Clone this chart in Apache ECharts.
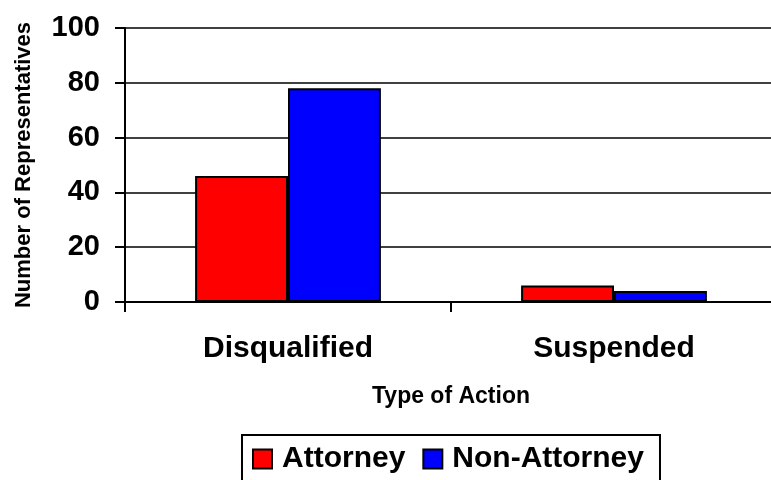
<!DOCTYPE html>
<html>
<head>
<meta charset="utf-8">
<script src="https://cdn.jsdelivr.net/npm/echarts@6/dist/echarts.min.js"></script>
<style>html,body{margin:0;padding:0;background:#fff}#c{width:771px;height:480px}</style>
</head>
<body>
<div id="c"></div>
<script>
const categories = ['Disqualified', 'Suspended'];
const attorney = [46, 6];
const nonAttorney = [78, 4];
const yTicks = { min: 0, max: 100, interval: 20 };

const FONT = '"Liberation Sans", Arial, sans-serif';
const chart = echarts.init(document.getElementById('c'), null, { renderer: 'canvas' });
chart.setOption({
  animation: false,
  backgroundColor: '#fff',
  textStyle: { fontFamily: FONT, fontWeight: 'bold', color: '#000' },
  grid: { left: 125, top: 28, width: 652, bottom: 178, containLabel: false, outerBoundsMode: 'none' },
  legend: {
    left: 242, top: 435,
    padding: [9, 16, 30, 10],
    borderColor: '#000', borderWidth: 2,
    itemWidth: 19, itemHeight: 19, itemGap: 17,
    icon: 'rect',
    textStyle: { fontFamily: FONT, fontWeight: 'bold', fontSize: 30, color: '#000', padding: [0, 0, 0, 5] },
    data: ['Attorney', 'Non-Attorney']
  },
  xAxis: {
    type: 'category',
    data: categories,
    name: 'Type of Action',
    nameLocation: 'middle',
    nameGap: 83,
    nameTextStyle: { fontFamily: FONT, fontWeight: 'bold', fontSize: 23, color: '#000' },
    axisLine: { lineStyle: { color: '#000', width: 2 } },
    axisTick: { show: true, length: 10, lineStyle: { color: '#000', width: 2 } },
    axisLabel: { fontFamily: FONT, fontWeight: 'bold', fontSize: 30, color: '#000', margin: 32 }
  },
  yAxis: {
    type: 'value',
    min: yTicks.min, max: yTicks.max, interval: yTicks.interval,
    name: 'Number of Representatives',
    nameLocation: 'middle',
    nameGap: 90,
    nameTextStyle: { fontFamily: FONT, fontWeight: 'bold', fontSize: 22, color: '#000' },
    axisLine: { show: true, lineStyle: { color: '#000', width: 2 } },
    axisTick: { show: true, length: 10, lineStyle: { color: '#000', width: 2 } },
    axisLabel: { fontFamily: FONT, fontWeight: 'bold', fontSize: 29, color: '#000', margin: 25 },
    splitLine: { show: true, lineStyle: { color: '#000', width: 1.5 } }
  },
  series: [
    {
      name: 'Attorney', type: 'bar', data: attorney,
      barGap: '0%', barCategoryGap: '43%',
      itemStyle: { color: '#ff0000', borderColor: '#000', borderWidth: 2 }
    },
    {
      name: 'Non-Attorney', type: 'bar', data: nonAttorney,
      barGap: '0%', barCategoryGap: '43%',
      itemStyle: { color: '#0000ff', borderColor: '#000', borderWidth: 2 }
    }
  ]
});
</script>
</body>
</html>
